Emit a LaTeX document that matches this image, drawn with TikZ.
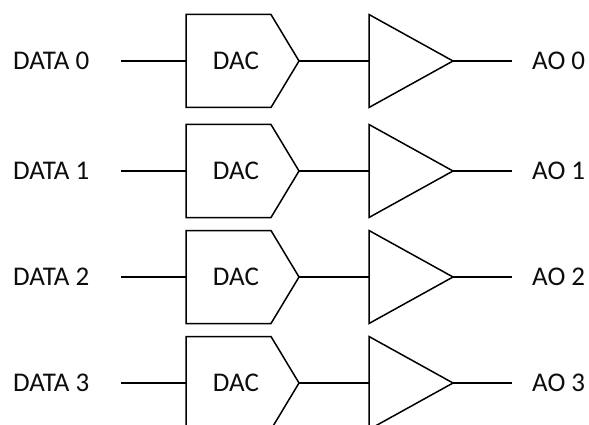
\documentclass[tikz,border=0pt]{standalone}
\usepackage{fontspec}
\setmainfont{Carlito}
\tikzset{
  lbl/.style={inner sep=0pt,font=\fontsize{27}{31}\selectfont,text=black!95},
  part/.style={draw=black,line width=1.5pt,line join=miter},
  wire/.style={draw=black,line width=1.5pt}
}
\begin{document}
\begin{tikzpicture}[x=1pt,y=-1pt]
\useasboundingbox (0,0) rectangle (589,425);
\clip (0,0) rectangle (589,425);
\fill[white] (0,0) rectangle (589,425);
\foreach \n/\y in {0/61,1/171,2/277,3/383}{
  \node[lbl,anchor=west] (data\n) at (13,\y) {DATA \n};
  \node[lbl] (dac\n) at (236,\y) {DAC};
  \node[lbl,anchor=west] (ao\n) at (532,\y) {AO \n};
  \coordinate (in\n) at (121,\y);
  \coordinate (dacin\n) at (186,\y);
  \coordinate (dacout\n) at (299,\y);
  \coordinate (ampin\n) at (369,\y);
  \coordinate (ampout\n) at (453,\y);
  \coordinate (out\n) at (512,\y);
  \draw[part] (186,\y-46.5) -- (271,\y-46.5) -- (dacout\n) -- (271,\y+46.5) -- (186,\y+46.5) -- cycle;
  \draw[part] (369,\y-46.5) -- (ampout\n) -- (369,\y+46.5) -- cycle;
  \draw[wire] (in\n) -- (dacin\n);
  \draw[wire] (dacout\n) -- (ampin\n);
  \draw[wire] (ampout\n) -- (out\n);
}
\end{tikzpicture}
\end{document}
